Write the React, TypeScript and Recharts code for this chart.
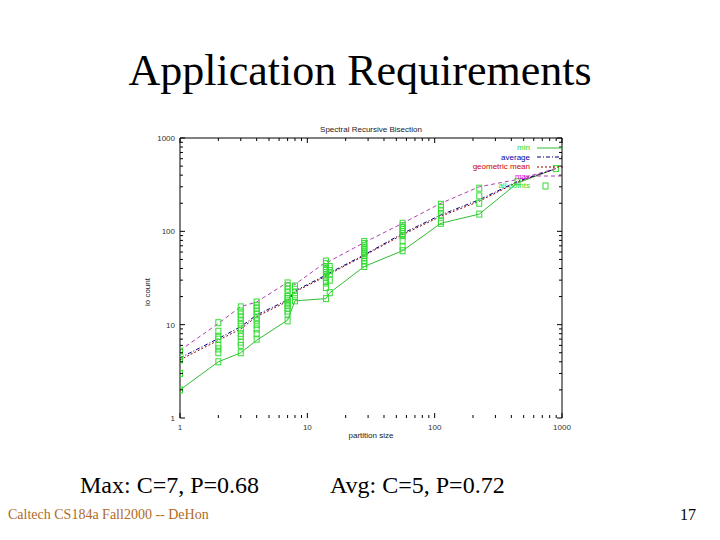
import React from 'react';
import { ComposedChart, Line, Scatter, XAxis, YAxis, Legend } from 'recharts';

// ---- data ----
const partitionSizes = [1, 2, 3, 4, 7, 8, 14, 15, 28, 56, 112, 224, 448, 896];
const minIo = [2, 4, 5, 6.8, 11.2, 18, 19, 22, 42, 62, 122, 153, 330, 470];
const avgIo = [4.4, 7.1, 9.5, 12.7, 18.4, 23, 34, 36, 56, 95, 150, 218, 343, 470];
const geoIo = [4.2, 6.8, 9.0, 12.2, 17.8, 22.5, 33, 35, 55, 92, 145, 210, 338, 470];
const maxIo = [5.3, 10.3, 15.6, 17.5, 28.4, 27, 47, 48, 76, 122, 200, 300, 360, 470];
const allPointsIo = [
  [2, 3, 4.2, 5.2],
  [4, 5, 5.5, 6, 7, 7.5, 8.5, 10.5],
  [5, 6, 6.5, 7.5, 8, 9, 10, 11, 12, 13, 14, 15.5],
  [7, 8, 9, 10, 11, 12, 13, 14, 15, 16, 17.5],
  [11, 13, 14, 15, 16, 17, 18, 19, 20, 22, 24, 26, 28],
  [18, 20, 22, 24, 26],
  [19, 25, 28, 30, 32, 34, 36, 38, 40, 42, 45, 48],
  [22, 30, 35, 38, 42],
  [42, 45, 48, 52, 55, 58, 60, 63, 66, 70, 74, 78],
  [62, 68, 80, 90, 95, 100, 105, 110, 115, 122],
  [122, 128, 150, 165, 180, 195],
  [153, 200, 240, 290],
  [340],
  [470],
];
const majorTicks = [1, 10, 100, 1000];
const minorTicks = [2, 3, 4, 5, 6, 7, 8, 9, 20, 30, 40, 50, 60, 70, 80, 90, 200, 300, 400, 500, 600, 700, 800, 900];
const chartTitle = 'Spectral Recursive Bisection';
const xLabel = 'partition size';
const yLabel = 'io count';
const legendNames = ['min', 'average', 'geometric mean', 'max', 'all points'];

// ---- derived tables ----
const mk = (ys: number[]) => partitionSizes.map((x, i) => ({ x, y: ys[i] }));
const minData = mk(minIo);
const avgData = mk(avgIo);
const geoData = mk(geoIo);
const maxData = mk(maxIo);
const allData = partitionSizes.flatMap((x, i) => allPointsIo[i].map((y) => ({ x, y })));
const allTicks = [...majorTicks, ...minorTicks].sort((a, b) => a - b);

const GREEN = '#33dd33';
const LINE_GREEN = '#33bb33';
const NAVY = '#000080';
const DARKRED = '#990000';
const MAGENTA = '#b040b0';
const FONT = '"Liberation Sans", Arial, sans-serif';

const isMajor = (v: number) => majorTicks.some((m) => Math.abs(m - v) < 1e-6);

const BottomTick = (p: any) => {
  const { x, y, payload } = p;
  const major = isMajor(payload.value);
  return (
    <g>
      <line x1={x} x2={x} y1={y} y2={y - (major ? 5 : 3)} stroke="#000" />
      {major && (
        <text x={x} y={y + 12} textAnchor="middle" fontSize={8} fontFamily={FONT} fill="#333">
          {payload.value}
        </text>
      )}
    </g>
  );
};
const TopTick = (p: any) => {
  const { x, y, payload } = p;
  const major = isMajor(payload.value);
  return <line x1={x} x2={x} y1={y} y2={y + (major ? 5 : 3)} stroke="#000" />;
};
const LeftTick = (p: any) => {
  const { x, y, payload } = p;
  const major = isMajor(payload.value);
  return (
    <g>
      <line x1={x} x2={x + (major ? 5 : 3)} y1={y} y2={y} stroke="#000" />
      {major && (
        <text x={x - 5} y={y + 3} textAnchor="end" fontSize={8} fontFamily={FONT} fill="#333">
          {payload.value}
        </text>
      )}
    </g>
  );
};
const RightTick = (p: any) => {
  const { x, y, payload } = p;
  const major = isMajor(payload.value);
  return <line x1={x} x2={x - (major ? 5 : 3)} y1={y} y2={y} stroke="#000" />;
};

const SquareShape = (p: any) => {
  const { cx, cy } = p;
  if (cx == null || cy == null) return <g />;
  return <rect x={cx - 2.5} y={cy - 3} width={5} height={6} fill="none" stroke={GREEN} strokeWidth={1} />;
};

const legendStyles = [
  { color: '#22dd22', stroke: LINE_GREEN, dash: undefined as string | undefined, marker: false },
  { color: '#0000aa', stroke: NAVY, dash: '4 2 1 2', marker: false },
  { color: '#cc0000', stroke: DARKRED, dash: '2 2', marker: false },
  { color: '#dd00dd', stroke: MAGENTA, dash: '4 3', marker: false },
  { color: '#22dd22', stroke: GREEN, dash: undefined, marker: true },
];

const renderLegend = () => (
  <div style={{ fontFamily: FONT, fontSize: 8, lineHeight: '9.5px' }}>
    {legendNames.map((n, i) => {
      const s = legendStyles[i];
      return (
        <div key={n} style={{ display: 'flex', alignItems: 'center', height: 9.5 }}>
          <span style={{ width: 92, textAlign: 'right', color: s.color, whiteSpace: 'nowrap' }}>{n}</span>
          <svg width={30} height={8} style={{ marginLeft: 5 }}>
            {s.marker ? (
              <rect x={8} y={1} width={5} height={6} fill="none" stroke={s.stroke} />
            ) : (
              <line x1={2} x2={28} y1={4} y2={4} stroke={s.stroke} strokeDasharray={s.dash} />
            )}
          </svg>
        </div>
      );
    })}
  </div>
);

export default function App() {
  return (
    <div style={{ position: 'absolute', left: 0, top: 0, width: 720, height: 540, background: '#fff', overflow: 'hidden' }}>
      <div
        style={{
          position: 'absolute', left: 0, width: 720, top: 43, textAlign: 'center',
          fontFamily: '"Liberation Serif", "Times New Roman", serif', fontSize: 44, color: '#000', lineHeight: '56px',
        }}
      >
        Application Requirements
      </div>
      <ComposedChart
        width={720}
        height={540}
        margin={{ top: 137, left: 179, right: 157, bottom: 121 }}
        style={{ position: 'absolute', left: 0, top: 0 }}
      >
        <XAxis
          xAxisId="b" dataKey="x" type="number" scale="log" domain={[1, 1000]} allowDataOverflow
          ticks={allTicks} interval={0} height={1} tickSize={0} tickMargin={0}
          axisLine={false} tickLine={false} tick={<BottomTick />}
          label={{ value: xLabel, position: 'bottom', offset: 13, fontSize: 8, fontFamily: FONT, fill: '#222' }}
        />
        <XAxis
          xAxisId="t" orientation="top" dataKey="x" type="number" scale="log" domain={[1, 1000]} allowDataOverflow
          ticks={allTicks} interval={0} height={1} tickSize={0} tickMargin={0}
          axisLine={{ stroke: '#000' }} tickLine={false} tick={<TopTick />}
          label={{ value: chartTitle, position: 'top', offset: 5, fontSize: 8, fontFamily: FONT, fill: '#222' }}
        />
        <YAxis
          yAxisId="l" dataKey="y" type="number" scale="log" domain={[1, 1000]} allowDataOverflow
          ticks={allTicks} interval={0} width={1} tickSize={0} tickMargin={0}
          axisLine={{ stroke: '#000' }} tickLine={false} tick={<LeftTick />}
          label={{ value: yLabel, position: 'left', angle: -90, offset: 32, fontSize: 8, fontFamily: FONT, fill: '#222' }}
        />
        <YAxis
          yAxisId="r" orientation="right" dataKey="y" type="number" scale="log" domain={[1, 1000]} allowDataOverflow
          ticks={allTicks} interval={0} width={1} tickSize={0} tickMargin={0}
          axisLine={{ stroke: '#000' }} tickLine={false} tick={<RightTick />}
        />
        <Line xAxisId="b" yAxisId="l" data={minData} dataKey="y" stroke={LINE_GREEN} strokeWidth={1} dot={false} isAnimationActive={false} name="min" />
        <Line xAxisId="b" yAxisId="l" data={geoData} dataKey="y" stroke={DARKRED} strokeWidth={1} strokeDasharray="2 2" dot={false} isAnimationActive={false} name="geometric mean" />
        <Line xAxisId="b" yAxisId="l" data={avgData} dataKey="y" stroke={NAVY} strokeWidth={1} strokeDasharray="4 2 1 2" dot={false} isAnimationActive={false} name="average" />
        <Line xAxisId="b" yAxisId="l" data={maxData} dataKey="y" stroke={MAGENTA} strokeWidth={1} strokeDasharray="4 3" dot={false} isAnimationActive={false} name="max" />
        <Scatter xAxisId="b" yAxisId="l" data={allData} dataKey="y" shape={<SquareShape />} isAnimationActive={false} name="all points" />
        <Legend
          content={renderLegend}
          layout="vertical"
          align="center"
          verticalAlign="middle"
          wrapperStyle={{ position: 'absolute', left: 438, top: 143, width: 130, bottom: 'auto', right: 'auto' }}
        />
      </ComposedChart>
      <div style={{ position: 'absolute', left: 80, top: 472, fontFamily: '"Liberation Serif", serif', fontSize: 24, color: '#000', whiteSpace: 'nowrap' }}>
        Max: C=7, P=0.68
      </div>
      <div style={{ position: 'absolute', left: 330, top: 472, fontFamily: '"Liberation Serif", serif', fontSize: 24, color: '#000', whiteSpace: 'nowrap' }}>
        Avg: C=5, P=0.72
      </div>
      <div style={{ position: 'absolute', left: 8, top: 507, fontFamily: '"Liberation Serif", serif', fontSize: 14, color: '#b06a28', whiteSpace: 'nowrap' }}>
        Caltech CS184a Fall2000 -- DeHon
      </div>
      <div style={{ position: 'absolute', left: 680, top: 506, fontFamily: '"Liberation Serif", serif', fontSize: 16, color: '#000', whiteSpace: 'nowrap' }}>
        17
      </div>
    </div>
  );
}
